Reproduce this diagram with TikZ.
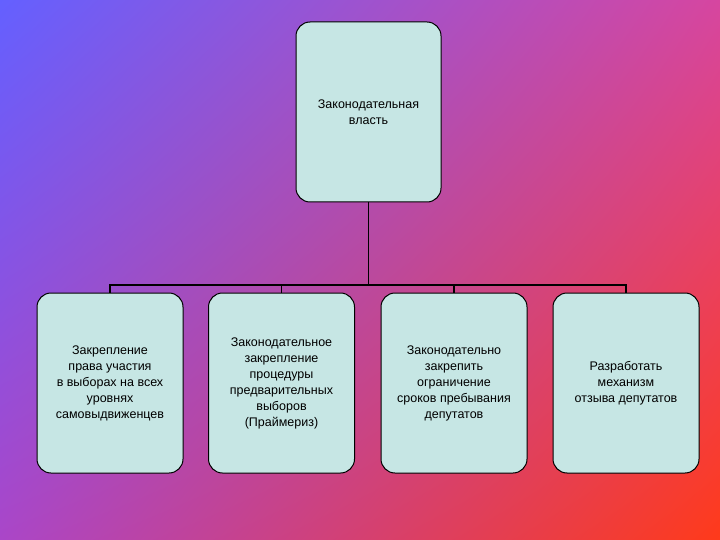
\documentclass[tikz,border=0pt]{standalone}
\usepackage{fontspec}
\setmainfont{Liberation Sans}
\usetikzlibrary{shadings}
\begin{document}
\begin{tikzpicture}[x=1pt,y=-1pt,
  box/.style={draw=black,line width=1pt,fill=boxfill,rounded corners=14pt,minimum width=146pt,minimum height=180pt,align=center,font=\fontsize{12.5}{16}\selectfont,inner sep=1pt},
  conn/.style={draw=black,line width=1.4pt}]
\definecolor{boxfill}{HTML}{C6E6E4}
\definecolor{cUL}{RGB}{100,96,255}
\definecolor{cUR}{RGB}{214,70,160}
\definecolor{cLL}{RGB}{170,70,200}
\definecolor{cLR}{RGB}{255,58,26}
\shade[upper left=cUL,upper right=cUR,lower left=cLL,lower right=cLR] (0,0) rectangle (720,540);
\useasboundingbox (0,0) rectangle (720,540);
\node[box,minimum height=180pt,minimum width=145pt] (top) at (368.5,112) {Законодательная\\власть};
\node[box] (b1) at (110,383) {Закрепление\\права участия\\в выборах на всех\\уровнях\\самовыдвиженцев};
\node[box] (b2) at (281.5,383) {Законодательное\\закрепление\\процедуры\\предварительных\\выборов\\(Праймериз)};
\node[box] (b3) at (454,383) {Законодательно\\закрепить\\ограничение\\сроков пребывания\\депутатов};
\node[box] (b4) at (626,383) {Разработать\\механизм\\отзыва депутатов};
\coordinate (j) at (368.5,285);
\draw[conn] (top.south) -- (j);
\draw[conn] (b1.north) -- (b1.north |- j) -- (b4.north |- j) -- (b4.north);
\draw[conn] (b2.north) -- (b2.north |- j);
\draw[conn] (b3.north) -- (b3.north |- j);
\end{tikzpicture}
\end{document}
